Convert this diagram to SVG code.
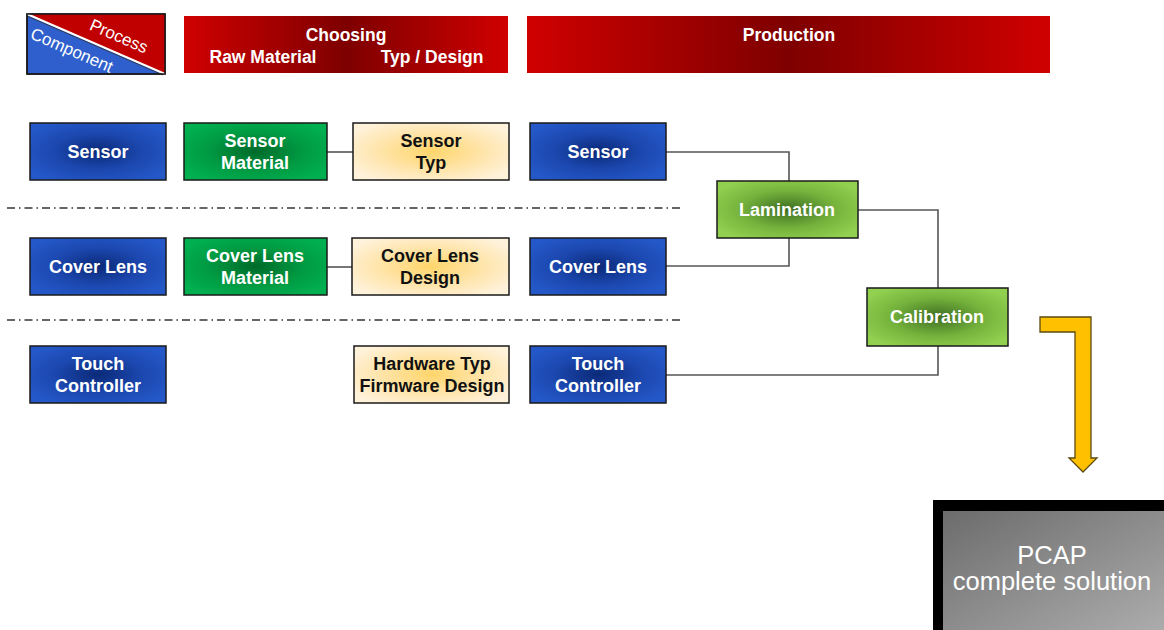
<svg xmlns="http://www.w3.org/2000/svg" width="1164" height="630" viewBox="0 0 1164 630">
<defs>
<radialGradient id="gBlue" cx="0.5" cy="0.5" r="0.6"><stop offset="0" stop-color="#0b2a78"/><stop offset="0.55" stop-color="#1c48b0"/><stop offset="1" stop-color="#2458c8"/></radialGradient>
<radialGradient id="gGreen" cx="0.5" cy="0.5" r="0.6"><stop offset="0" stop-color="#006a2a"/><stop offset="0.55" stop-color="#009a42"/><stop offset="1" stop-color="#00b050"/></radialGradient>
<radialGradient id="gCream" cx="0.5" cy="0.5" r="0.6"><stop offset="0" stop-color="#ffd56a"/><stop offset="0.6" stop-color="#ffe6b0"/><stop offset="1" stop-color="#fff2da"/></radialGradient>
<radialGradient id="gLime" cx="0.5" cy="0.5" r="0.6"><stop offset="0" stop-color="#3e6e22"/><stop offset="0.55" stop-color="#74b23c"/><stop offset="1" stop-color="#92d050"/></radialGradient>
<linearGradient id="gRed" x1="0" y1="0" x2="1" y2="0"><stop offset="0" stop-color="#d00000"/><stop offset="0.5" stop-color="#7e0000"/><stop offset="1" stop-color="#d00000"/></linearGradient>
<linearGradient id="gGrey" x1="0" y1="0" x2="1" y2="1"><stop offset="0" stop-color="#6c6c6c"/><stop offset="1" stop-color="#acacac"/></linearGradient>
<style>
.box{stroke:#1a1a1a;stroke-width:1.5}
.blue{fill:url(#gBlue)}
.green{fill:url(#gGreen)}
.cream{fill:url(#gCream)}
.lime{fill:url(#gLime)}
.hdr{fill:url(#gRed)}
.t{font-family:"Liberation Sans",Arial,sans-serif;font-weight:bold;font-size:18px;text-anchor:middle;fill:#ffffff}
.dk{fill:#111111}
.h{font-family:"Liberation Sans",Arial,sans-serif;font-weight:bold;font-size:17.5px;text-anchor:middle;fill:#ffffff}
.con{fill:none;stroke:#555555;stroke-width:1.6}
.sep{fill:none;stroke:#333333;stroke-width:1.6;stroke-dasharray:8 4 1.5 4}
</style>
</defs>

<g id="legend">
<rect x="27" y="14" width="138" height="60" fill="#2f5fcc" stroke="#1a1a1a" stroke-width="1.5"/>
<polygon points="27,14 165,14 165,74" fill="#c00000"/>
<line x1="27" y1="14" x2="165" y2="74" stroke="#ffffff" stroke-width="2"/>
<line x1="27" y1="16" x2="163" y2="75" stroke="#333" stroke-width="0.8"/>
<rect x="27" y="14" width="138" height="60" fill="none" stroke="#1a1a1a" stroke-width="1.5"/>
<text x="119" y="42" transform="rotate(23.5 119 36)" font-family="Liberation Sans, Arial, sans-serif" font-size="17" fill="#ffffff" text-anchor="middle">Process</text>
<text x="72" y="56" transform="rotate(23.5 72 50)" font-family="Liberation Sans, Arial, sans-serif" font-size="17" fill="#ffffff" text-anchor="middle">Component</text>
</g>

<g id="hdr-choosing">
<rect class="hdr" x="184" y="16" width="324" height="57"/>
<text class="h" x="346" y="41">Choosing</text>
<text class="h" x="263" y="63">Raw Material</text>
<text class="h" x="432" y="63">Typ / Design</text>
</g>
<g id="hdr-production">
<rect class="hdr" x="527" y="16" width="523" height="57"/>
<text class="h" x="789" y="41">Production</text>
</g>

<g id="separators">
<line class="sep" x1="7" y1="208" x2="680" y2="208"/>
<line class="sep" x1="7" y1="320" x2="680" y2="320"/>
</g>

<g id="connectors">
<line class="con" x1="327" y1="152" x2="353" y2="152"/>
<line class="con" x1="327" y1="267" x2="352" y2="267"/>
<polyline class="con" points="666,152 789,152 789,181"/>
<polyline class="con" points="666,266 789,266 789,238"/>
<polyline class="con" points="858,210 938,210 938,288"/>
<polyline class="con" points="938,346 938,375 666,375"/>
</g>

<g id="sensor-c">
<rect class="box blue" x="30" y="123" width="136" height="57"/>
<text class="t" x="98" y="158">Sensor</text>
</g>
<g id="sensor-material">
<rect class="box green" x="184" y="123" width="143" height="57"/>
<text class="t" x="255" y="147">Sensor</text>
<text class="t" x="255" y="169">Material</text>
</g>
<g id="sensor-typ">
<rect class="box cream" x="353" y="123" width="156" height="57"/>
<text class="t dk" x="431" y="147">Sensor</text>
<text class="t dk" x="431" y="169">Typ</text>
</g>
<g id="sensor-p">
<rect class="box blue" x="530" y="123" width="136" height="57"/>
<text class="t" x="598" y="158">Sensor</text>
</g>

<g id="lamination">
<rect class="box lime" x="717" y="181" width="141" height="57"/>
<text class="t" x="787" y="216">Lamination</text>
</g>

<g id="cover-c">
<rect class="box blue" x="30" y="238" width="136" height="57"/>
<text class="t" x="98" y="273">Cover Lens</text>
</g>
<g id="cover-material">
<rect class="box green" x="184" y="238" width="143" height="57"/>
<text class="t" x="255" y="262">Cover Lens</text>
<text class="t" x="255" y="284">Material</text>
</g>
<g id="cover-design">
<rect class="box cream" x="352" y="238" width="157" height="57"/>
<text class="t dk" x="430" y="262">Cover Lens</text>
<text class="t dk" x="430" y="284">Design</text>
</g>
<g id="cover-p">
<rect class="box blue" x="530" y="238" width="136" height="57"/>
<text class="t" x="598" y="273">Cover Lens</text>
</g>

<g id="calibration">
<rect class="box lime" x="867" y="288" width="141" height="58"/>
<text class="t" x="937" y="323">Calibration</text>
</g>

<g id="touch-c">
<rect class="box blue" x="30" y="346" width="136" height="57"/>
<text class="t" x="98" y="370">Touch</text>
<text class="t" x="98" y="392">Controller</text>
</g>
<g id="hw-typ">
<rect class="box cream" x="354" y="346" width="155" height="57"/>
<text class="t dk" x="432" y="370">Hardware Typ</text>
<text class="t dk" x="432" y="392">Firmware Design</text>
</g>
<g id="touch-p">
<rect class="box blue" x="530" y="346" width="136" height="57"/>
<text class="t" x="598" y="370">Touch</text>
<text class="t" x="598" y="392">Controller</text>
</g>

<g id="arrow">
<path d="M1040,317 L1091,317 L1091,458 L1097,458 L1083,472 L1069,458 L1075,458 L1075,332 L1040,332 Z" fill="#ffc000" stroke="#5a4a10" stroke-width="1.3" stroke-linejoin="miter"/>
</g>

<g id="pcap">
<rect x="933" y="500" width="231" height="130" fill="#000000"/>
<rect x="943" y="511" width="221" height="119" fill="url(#gGrey)"/>
<text x="1052" y="564" font-family="Liberation Sans, Arial, sans-serif" font-size="25.5" fill="#ffffff" text-anchor="middle">PCAP</text>
<text x="1052" y="590" font-family="Liberation Sans, Arial, sans-serif" font-size="25.5" fill="#ffffff" text-anchor="middle">complete solution</text>
</g>
</svg>
